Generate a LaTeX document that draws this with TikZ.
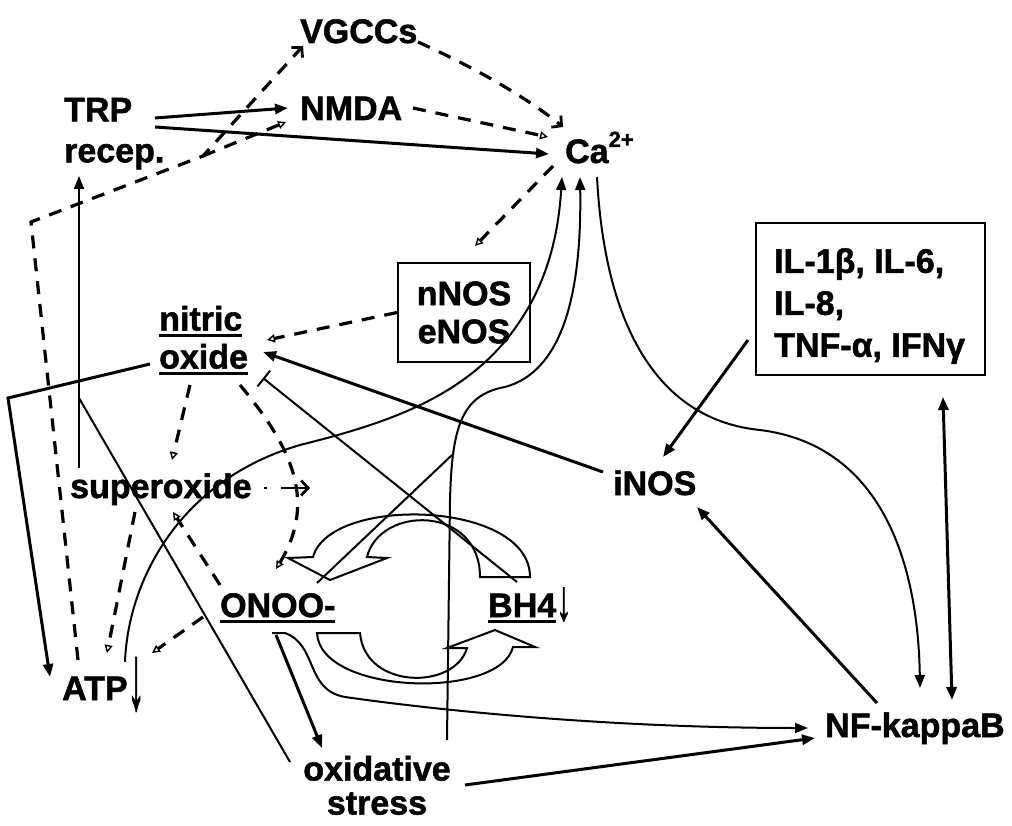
\documentclass[tikz,border=0pt]{standalone}
\usepackage{fontspec}
\setmainfont{Liberation Sans}[BoldFeatures={FakeBold=1.5}]
\usetikzlibrary{arrows.meta}
% underline with a heavy bar just below the baseline
\newcommand\ulbox[1]{\sbox0{#1}\rlap{\rule[-6pt]{\wd0}{3pt}}\usebox0}

\begin{document}
\begin{tikzpicture}[x=1pt,y=-1pt,
  lbl/.style={inner sep=0pt, font=\fontsize{34}{41}\selectfont\bfseries},
  box/.style={draw, line width=2pt, inner sep=0pt},
  link/.style={line width=2pt},
  heavy/.style={line width=3pt},
  dsh/.style={line width=3.2pt, dash pattern=on 13pt off 10pt},
  tri/.style={-{Triangle[length=13pt,width=10pt]}},
  twotri/.style={{Triangle[length=13pt,width=10pt]}-{Triangle[length=13pt,width=10pt]}},
  otri/.style={-{Triangle[open,length=8pt,width=8pt,line width=1.4pt]}},
  barb/.style={-{Straight Barb[length=7pt,width=15pt,line width=2.8pt]}},
  cycle arrow/.style={line width=2pt, line join=miter},
]
\useasboundingbox (0,0) rectangle (1012,826);

% ---------- labels ----------
\node[lbl, anchor=base west] (vgcc) at (300,43) {VGCCs};
\node[lbl, anchor=base west] (nmda) at (300,120) {NMDA};
\node[lbl, anchor=north west, align=left] (trp) at (64,97.7) {TRP\\recep.};
\node[lbl, anchor=base west] (ca) at (565,163)
  {Ca\raisebox{16pt}{\fontsize{22}{22}\selectfont 2+}};
\node[box, lbl, font=\fontsize{34}{38}\selectfont\bfseries, align=center,
      minimum width=132pt, minimum height=99pt] (nnos) at (464,312.5) {nNOS\\eNOS};
\node[box, minimum width=229pt, minimum height=152pt] (ilbox) at (870.5,299) {};
\node[lbl, font=\fontsize{34}{42}\selectfont\bfseries, anchor=north west, align=left]
  (iltext) at (774,248) {IL-1β, IL-6,\\IL-8,\\TNF-α, IFNγ};
\node[lbl, font=\fontsize{34}{38}\selectfont\bfseries, anchor=north west, align=left]
  (no) at (159,305.7) {\ulbox{nitric}\\\ulbox{oxide}};
\node[lbl, anchor=base west] (sup) at (70,498) {superoxide};
\node[lbl, anchor=base west] (inos) at (613,495) {iNOS};
\node[lbl, anchor=base west] (onoo) at (220,617) {\ulbox{ONOO-}};
\node[lbl, anchor=base west] (bh4) at (488,617)
  {\ulbox{BH4}\raisebox{-3pt}{\scalebox{0.9}[1.7]{↓}}};
\node[lbl, anchor=base west] (atp) at (62,700)
  {ATP\raisebox{-9pt}{\scalebox{1.0}[2.7]{↓}}};
\node[lbl, anchor=base west] (nfkb) at (825,737) {NF-kappaB};
\node[lbl, font=\fontsize{34}{34}\selectfont\bfseries, anchor=north, align=center]
  (ox) at (377,755.7) {oxidative\\stress};

% ---------- connector end points ----------
\coordinate (atpD) at (78,660);
\coordinate (bendL) at (31,222);
\coordinate (fork) at (203,156);
\coordinate (vgccT) at (303,46);
\coordinate (nmdaT) at (286,122);
\coordinate (trpA) at (155,118);
\coordinate (trpB) at (155,127);
\coordinate (nmdaW) at (288,108);
\coordinate (caW) at (549,154);
\coordinate (nmdaE) at (413,108);
\coordinate (caNW) at (548,137);
\coordinate (vgccE) at (418,42);
\coordinate (caN) at (563,127);
\coordinate (caSW) at (553,166);
\coordinate (nnosT) at (475,246);
\coordinate (noE) at (267,340);
\coordinate (noSE) at (263,352);
\coordinate (inosW) at (603,472);
\coordinate (noW) at (150,364);
\coordinate (bendNO) at (8,398);
\coordinate (atpNW) at (50,677);
\coordinate (supN) at (79,468);
\coordinate (trpS) at (79,176);
\coordinate (join) at (79,398);
\coordinate (oxW) at (290,762);
\coordinate (noS) at (190,385);
\coordinate (supNt) at (172,460);
\coordinate (supS) at (135,512);
\coordinate (atpN) at (107,653);
\coordinate (onooNW) at (220,585);
\coordinate (supSt) at (173,512);
\coordinate (noSR) at (240,385);
\coordinate (onooN) at (276,569);
\coordinate (supE) at (264,488);
\coordinate (merge) at (310,488);
\coordinate (onooW) at (203,617);
\coordinate (atpNE) at (152,653);
\coordinate (onooS) at (276,635);
\coordinate (oxN) at (322,748);
\coordinate (onooH) at (272,633);
\coordinate (nfkbW) at (808,728);
\coordinate (oxE) at (465,785);
\coordinate (nfkbW2) at (815,738);
\coordinate (oxNE) at (447,740);
\coordinate (caS2) at (580,177);
\coordinate (onooNE) at (317,583);
\coordinate (onJoin) at (452,455);
\coordinate (atpNR) at (125,662);
\coordinate (caS1) at (562,177);
\coordinate (caSE) at (597,177);
\coordinate (nfkbN) at (920,688);
\coordinate (nfkbNW) at (877,703);
\coordinate (inosSE) at (697,507);
\coordinate (ilW) at (748,340);
\coordinate (inosNE) at (663,457);
\coordinate (ilS) at (943,397);
\coordinate (nfkbN2) at (952,700);
\coordinate (bh4N) at (517,582);
\coordinate (noSE2) at (263,378);

% ---------- recycling arrows between ONOO- and BH4 ----------
\draw[cycle arrow] (530,577) .. controls (530,500) and (330,495) .. (313,557)
  -- (288,558) -- (330,580) -- (387,558) -- (367,557)
  .. controls (380,505) and (480,505) .. (480,577) -- cycle;
\draw[cycle arrow] (317,633) .. controls (320,695) and (500,700) .. (513,647)
  -- (535,647) -- (495,630) -- (447,648) -- (467,648)
  .. controls (455,690) and (365,690) .. (360,633) -- cycle;

% ---------- dashed links ----------
\draw[dsh, barb] (atpD) -- (bendL) -- (fork) -- (vgccT);
\draw[dsh, otri] (fork) -- (nmdaT);
\draw[dsh, otri] (nmdaE) -- (caNW);
\draw[dsh, barb] (vgccE) .. controls (480,70) and (530,100) .. (caN);
\draw[dsh, otri] (caSW) -- (nnosT);
\draw[dsh, otri] (nnos.west) -- (noE);
\draw[dsh, otri] (noS) -- (supNt);
\draw[dsh, otri] (supS) -- (atpN);
\draw[dsh, otri] (onooNW) -- (supSt);
\draw[dsh, otri] (noSR) .. controls (290,445) and (318,500) .. (onooN);
\draw[line width=2.8pt, dash pattern=on 3pt off 14pt on 30pt, barb] (supE) -- (merge);
\draw[dsh, otri] (onooW) -- (atpNE);

% ---------- solid links ----------
\draw[heavy, tri] (trpA) -- (nmdaW);
\draw[heavy, tri] (trpB) -- (caW);
\draw[heavy, tri] (inosW) -- (noSE);
\draw[heavy, tri] (noW) -- (bendNO) -- (atpNW);
\draw[link, tri] (supN) -- (trpS);
\draw[link] (oxW) -- (join);
\draw[heavy, tri] (onooS) -- (oxN);
\draw[link, tri] (onooH) -- (285,633) .. controls (318,645) and (305,690) .. (345,697)
  .. controls (450,712) and (620,728) .. (nfkbW);
\draw[heavy, tri] (oxE) -- (nfkbW2);
\draw[link, tri] (oxNE) -- (450,500) .. controls (452,430) and (460,395) .. (505,387)
  .. controls (560,372) and (582,300) .. (caS2);
\draw[link] (onooNE) -- (onJoin);
\draw[link, tri] (atpNR) .. controls (128,580) and (180,480) .. (300,445)
  .. controls (380,425) and (460,400) .. (510,335)
  .. controls (545,290) and (558,240) .. (caS1);
\draw[link, tri] (caSE) .. controls (605,330) and (660,420) .. (760,430)
  .. controls (880,445) and (918,560) .. (nfkbN);
\draw[heavy, tri] (nfkbNW) -- (inosSE);
\draw[heavy, tri] (ilW) -- (inosNE);
\draw[heavy, twotri] (ilS) -- (nfkbN2);
\draw[link, {Bar[width=20pt,line width=2pt]}-] (noSE2) -- (bh4N);
\end{tikzpicture}
\end{document}
